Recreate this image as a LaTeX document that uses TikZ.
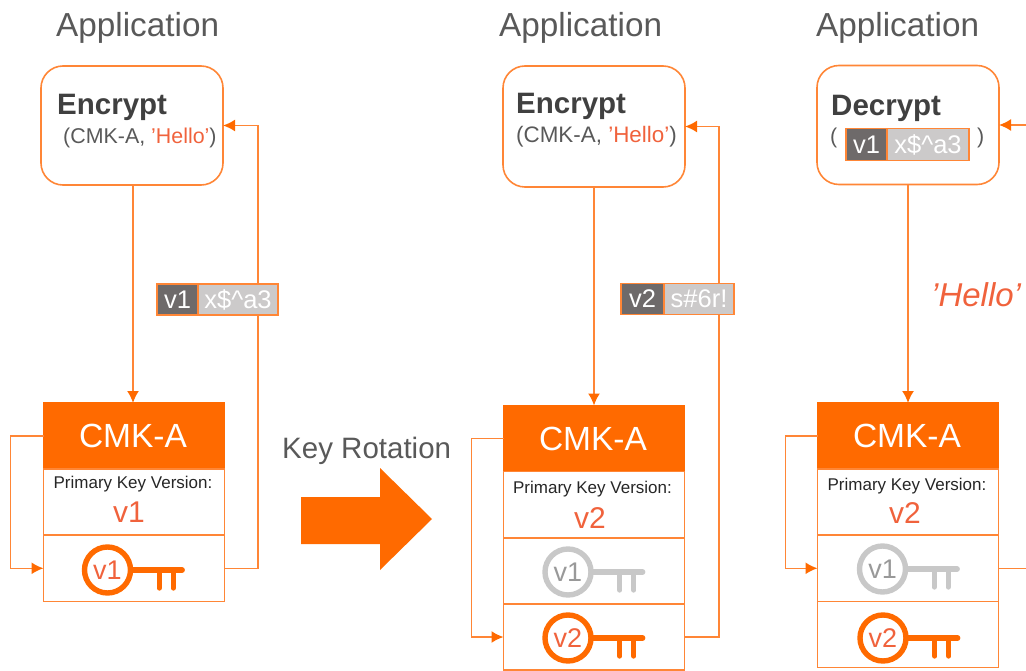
\documentclass[tikz,border=0pt]{standalone}
\usepackage{fontspec}
\setmainfont{Liberation Sans}
\usetikzlibrary{calc, positioning, arrows.meta}

\definecolor{aliorange}{HTML}{FF6A00}
\definecolor{aliline}{HTML}{FF8636}
\definecolor{alired}{HTML}{F0623C}
\definecolor{tagdark}{HTML}{6E6A6A}
\definecolor{taglight}{HTML}{CCCACA}
\definecolor{keygrey}{HTML}{C8C8C8}
\definecolor{textgrey}{HTML}{595959}
\definecolor{textdark}{HTML}{404040}

\newcommand{\fsize}[1]{\fontsize{#1}{#1}\selectfont}

\tikzset{
  title/.style={anchor=base west,inner sep=0pt,text=textgrey,font=\fsize{33.3}},
  opname/.style={anchor=base west,inner sep=0pt,text=textdark,font=\fsize{29.5}\bfseries},
  opargs/.style={anchor=base west,inner sep=0pt,text=textgrey,font=\fsize{21.4}},
  opbox/.style={draw=aliline,line width=1.6pt,rounded corners=22pt,outer sep=0pt,minimum width=182pt,minimum height=119pt},
  cmkhead/.style={draw=aliorange,fill=aliorange,line width=1.6pt,text=white,outer sep=0pt,minimum width=181pt,minimum height=66pt,inner sep=0pt,font=\fsize{33.5}},
  cmkrow/.style={draw=aliline,line width=1.6pt,outer sep=0pt,minimum width=181pt,minimum height=66.2pt,inner sep=0pt},
  primary/.style={anchor=base,inner sep=0pt,text=black!85,font=\fsize{17}},
  primaryver/.style={anchor=base,inner sep=0pt,text=alired,font=\fsize{30}},
  tagver/.style={draw=aliline,fill=tagdark,line width=1.4pt,text=white,outer sep=0pt,minimum width=41pt,minimum height=31pt,inner sep=0pt,font=\fsize{25.5}},
  tagdata/.style={draw=aliline,fill=taglight,line width=1.4pt,text=white,outer sep=0pt,minimum height=31pt,inner sep=0pt,font=\fsize{25.5}},
  conn/.style={draw=aliline,line width=1.6pt},
  connarrow/.style={conn,-{Latex[length=12pt,width=12pt,color=aliorange]}},
  keyhead/.style={circle,draw=#1,line width=5.4pt,minimum size=46pt,inner sep=0pt,font=\fsize{27}},
  keystem/.style={draw=#1,line width=5.4pt,line cap=round}
}

% key icon: name, position, version, ring colour, text colour
\newcommand{\keyicon}[5]{
  \node[keyhead=#4,text=#5] (#1) at #2 {#3};
  \draw[keystem=#4] (#1.east) -- ++(49,0);
  \draw[keystem=#4] ($(#1.east)+(26,0)$) -- ++(0,18);
  \draw[keystem=#4] ($(#1.east)+(40,0)$) -- ++(0,18);
}

\begin{document}
\begin{tikzpicture}[x=1pt,y=-1pt]
\useasboundingbox (0,0) rectangle (1026,671);

% first column
\node[title] (app a) at (56,37) {Application};
\node[opbox] (enc a) at (132,125.5) {};
\node[opname] (enc a name) at (57,115) {Encrypt};
\node[opargs] (enc a args) at (63,144) {(CMK-A, \textcolor{alired}{'Hello'})};
\node[cmkhead] (cmk a) at (134,436) {\hspace{-2pt}CMK-A};
\node[cmkrow,below=0pt of cmk a] (ver a) {};
\node[cmkrow,below=0pt of ver a] (row a one) {};
\node[primary] (pk a) at (133,488) {Primary Key Version:};
\node[primaryver] (pk a ver) at (129,522) {v1};
\keyicon{key a one}{(107.5,570)}{v1}{aliorange}{alired}
\node[tagver] (tag a ver) at (177.5,299.5) {v1};
\node[tagdata,minimum width=80pt,right=0pt of tag a ver] (tag a data) {x\$\textasciicircum a3};

\draw[connarrow] (enc a.south -| 133,0) -- (cmk a.north -| 133,0);
\draw[connarrow] (cmk a.west) -- ++(-33,0) |- (row a one.west);
\draw[conn] (row a one.east) -| (tag a data.south -| 258,0);
\draw[connarrow] (tag a data.north -| 258,0) |- (enc a.east);

% rotation arrow
\node[anchor=base west,inner sep=0pt,text=textgrey,font=\fsize{29.5}] (rot label) at (282,458) {Key Rotation};
\fill[aliorange] (301,497) -- (380,497) -- (380,468) -- (432,519) -- (380,570) -- (380,544) -- (301,544) -- cycle;

% second column
\node[title] (app b) at (499,37) {Application};
\node[opbox,minimum height=121pt] (enc b) at (594,126.5) {};
\node[opname] (enc b name) at (516,114) {Encrypt};
\node[opargs,font=\fsize{22.4}] (enc b args) at (516,143) {(CMK-A, \textcolor{alired}{'Hello'})};
\node[cmkhead] (cmk b) at (594,438.5) {\hspace{-2pt}CMK-A};
\node[cmkrow,below=0pt of cmk b] (ver b) {};
\node[cmkrow,below=0pt of ver b] (row b one) {};
\node[cmkrow,below=0pt of row b one] (row b two) {};
\node[primary] (pk b) at (592.5,493) {Primary Key Version:};
\node[primaryver] (pk b ver) at (590,528) {v2};
\keyicon{key b one}{(568,572)}{v1}{keygrey}{black!40}
\keyicon{key b two}{(568,638)}{v2}{aliorange}{alired}
\node[tagver,minimum width=43pt] (tag b ver) at (642.5,299) {v2};
\node[tagdata,minimum width=70pt,right=0pt of tag b ver] (tag b data) {s\#6r!};

\draw[connarrow] (enc b.south) -- (cmk b.north);
\draw[connarrow] (cmk b.west) -- ++(-32,0) |- (row b two.west);
\draw[conn] (row b two.east) -| (tag b data.south -| 719,0);
\draw[connarrow] (tag b data.north -| 719,0) |- (enc b.east);

% third column
\node[title] (app c) at (816,37) {Application};
\node[opbox] (enc c) at (908,125) {};
\node[opname] (enc c name) at (831,116) {Decrypt};
\node[opargs] (enc c open) at (830,144) {(};
\node[tagver,minimum width=41pt,minimum height=32pt] (tag c ver) at (866.5,144.5) {v1};
\node[tagdata,minimum width=82pt,minimum height=32pt,right=0pt of tag c ver] (tag c data) {x\$\textasciicircum a3};
\node[opargs] (enc c close) at (977,144) {)};
\node[cmkhead] (cmk c) at (908,436) {\hspace{-2pt}CMK-A};
\node[cmkrow,below=0pt of cmk c] (ver c) {};
\node[cmkrow,below=0pt of ver c] (row c one) {};
\node[cmkrow,below=0pt of row c one] (row c two) {};
\node[primary] (pk c) at (907,490) {Primary Key Version:};
\node[primaryver] (pk c ver) at (905,523) {v2};
\keyicon{key c one}{(882.5,569)}{v1}{keygrey}{black!40}
\keyicon{key c two}{(883,638)}{v2}{aliorange}{alired}
\node[anchor=base west,inner sep=0pt,text=alired,font=\fsize{33}\itshape] (hello c) at (931,306) {'Hello'};
\coordinate (edge top) at (1026,125);
\coordinate (edge low) at (row c one.east -| edge top);

\draw[connarrow] (enc c.south) -- (cmk c.north);
\draw[connarrow] (cmk c.west) -- ++(-32,0) |- (row c one.west);
\draw[conn] (row c one.east) -- (edge low);
\draw[connarrow] (edge top) -- (enc c.east);
\end{tikzpicture}
\end{document}
